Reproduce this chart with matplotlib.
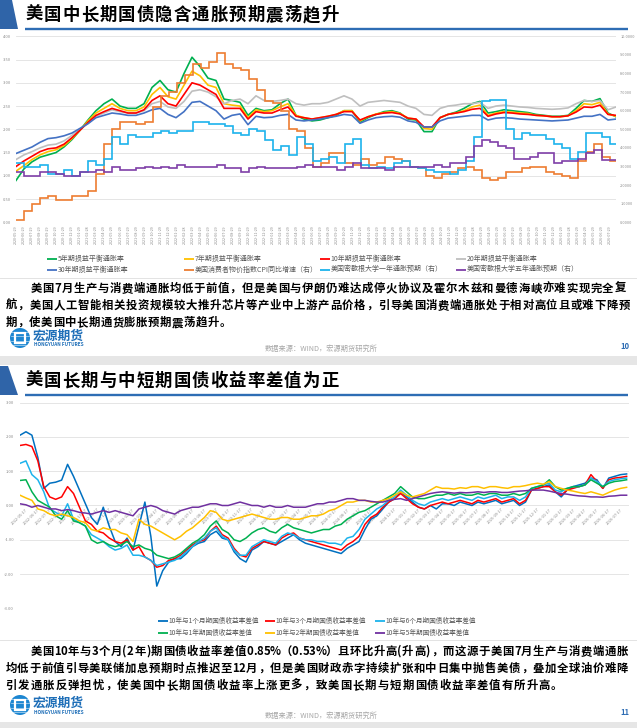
import numpy as np
import pandas as pd
import matplotlib
matplotlib.use('Agg')
import matplotlib.pyplot as plt
from matplotlib.patches import Polygon, Circle, Rectangle
from matplotlib.transforms import ScaledTranslation

plt.rcParams['font.family'] = ['Noto Sans CJK SC', 'DejaVu Sans']

# ---------------- chart 1 data (breakevens, left axis, monthly readings) ----------------
be_5y = [0.90, 1.15, 1.30, 1.40, 1.45, 1.50, 1.62, 1.78, 1.98, 2.20,
         2.40, 2.55, 2.65, 2.50, 2.45, 2.45, 2.55, 2.90, 3.05, 2.85,
         2.80, 3.20, 3.55, 3.35, 3.10, 3.05, 2.65, 2.62, 2.58, 2.30,
         2.45, 2.40, 2.42, 2.55, 2.65, 2.30, 2.22, 2.18, 2.20, 2.25,
         2.30, 2.40, 2.40, 2.15, 2.25, 2.32, 2.38, 2.40, 2.35, 2.22,
         2.20, 1.95, 1.95, 2.25, 2.32, 2.37, 2.45, 2.55, 2.60, 2.35,
         2.38, 2.42, 2.40, 2.38, 2.36, 2.32, 2.30, 2.28, 2.28, 2.30,
         2.45, 2.62, 2.60, 2.66, 2.35, 2.27]
be_7y = [1.10, 1.22, 1.35, 1.45, 1.52, 1.56, 1.65, 1.80, 1.98, 2.18,
         2.35, 2.45, 2.55, 2.45, 2.40, 2.40, 2.48, 2.75, 2.90, 2.70,
         2.65, 2.95, 3.25, 3.15, 2.95, 2.90, 2.55, 2.52, 2.50, 2.25,
         2.42, 2.38, 2.40, 2.48, 2.55, 2.30, 2.25, 2.22, 2.25, 2.28,
         2.32, 2.40, 2.40, 2.18, 2.27, 2.33, 2.36, 2.38, 2.34, 2.24,
         2.22, 2.02, 2.00, 2.25, 2.32, 2.35, 2.40, 2.48, 2.52, 2.30,
         2.35, 2.38, 2.37, 2.35, 2.34, 2.30, 2.29, 2.27, 2.27, 2.29,
         2.40, 2.55, 2.53, 2.58, 2.33, 2.28]
be_10y = [1.20, 1.32, 1.42, 1.52, 1.58, 1.60, 1.68, 1.82, 1.98, 2.15,
          2.30, 2.38, 2.45, 2.40, 2.35, 2.35, 2.42, 2.62, 2.72, 2.55,
          2.50, 2.75, 3.00, 2.95, 2.85, 2.75, 2.45, 2.45, 2.45, 2.22,
          2.38, 2.35, 2.35, 2.42, 2.48, 2.28, 2.25, 2.22, 2.25, 2.28,
          2.32, 2.38, 2.38, 2.20, 2.27, 2.32, 2.35, 2.36, 2.33, 2.24,
          2.22, 2.05, 2.05, 2.25, 2.32, 2.35, 2.38, 2.43, 2.45, 2.28,
          2.33, 2.36, 2.35, 2.33, 2.32, 2.30, 2.29, 2.27, 2.27, 2.29,
          2.37, 2.48, 2.47, 2.52, 2.32, 2.30]
be_20y = [1.35, 1.45, 1.52, 1.60, 1.66, 1.68, 1.75, 1.87, 2.00, 2.13,
          2.28, 2.35, 2.42, 2.38, 2.35, 2.35, 2.40, 2.55, 2.60, 2.48,
          2.45, 2.60, 2.82, 2.85, 2.80, 2.70, 2.55, 2.62, 2.65, 2.55,
          2.72, 2.62, 2.60, 2.62, 2.65, 2.55, 2.52, 2.55, 2.55, 2.58,
          2.65, 2.72, 2.65, 2.50, 2.58, 2.60, 2.62, 2.60, 2.58, 2.50,
          2.45, 2.32, 2.30, 2.45, 2.50, 2.52, 2.55, 2.55, 2.58, 2.45,
          2.50, 2.52, 2.50, 2.48, 2.47, 2.45, 2.44, 2.43, 2.44, 2.46,
          2.55, 2.62, 2.60, 2.62, 2.42, 2.48]
be_30y = [1.48, 1.55, 1.62, 1.72, 1.80, 1.82, 1.86, 1.92, 2.02, 2.12,
          2.25, 2.30, 2.35, 2.33, 2.30, 2.30, 2.35, 2.42, 2.45, 2.32,
          2.25, 2.38, 2.58, 2.60, 2.50, 2.40, 2.22, 2.30, 2.33, 2.10,
          2.28, 2.25, 2.26, 2.30, 2.32, 2.20, 2.18, 2.20, 2.22, 2.25,
          2.28, 2.32, 2.30, 2.13, 2.20, 2.25, 2.27, 2.28, 2.26, 2.18,
          2.15, 2.05, 2.05, 2.18, 2.24, 2.26, 2.28, 2.30, 2.30, 2.20,
          2.24, 2.25, 2.24, 2.22, 2.21, 2.20, 2.19, 2.18, 2.19, 2.20,
          2.24, 2.28, 2.28, 2.32, 2.20, 2.22]

# monthly step series, right axis
cpi_yoy = [0.1, 0.6, 1.0, 1.3, 1.4, 1.2, 1.2, 1.4, 1.4, 1.7,
           2.6, 4.2, 5.0, 5.4, 5.4, 5.3, 5.4, 6.2, 6.8, 7.0,
           7.5, 7.9, 8.5, 8.3, 8.6, 9.1, 8.5, 8.3, 8.2, 7.7,
           7.1, 6.5, 6.4, 6.0, 5.0, 4.9, 4.0, 3.0, 3.2, 3.7,
           3.7, 3.2, 3.1, 3.4, 3.1, 3.2, 3.5, 3.4, 3.3, 3.0,
           2.9, 2.5, 2.4, 2.6, 2.7, 2.9, 3.0, 2.8, 2.4, 2.3,
           2.4, 2.7, 2.7, 2.9, 3.0, 3.0, 2.7, 2.6, 2.5, 2.4,
           3.3, 3.8, 4.2, 3.5, 3.3]
mich_1y = [3.2, 3.0, 3.0, 3.1, 2.6, 2.6, 2.8, 2.5, 2.7, 3.3,
           3.1, 3.4, 4.6, 4.2, 4.7, 4.6, 4.6, 4.8, 4.9, 4.8,
           4.9, 4.9, 5.4, 5.4, 5.3, 5.3, 5.2, 4.8, 4.7, 5.0,
           4.9, 4.4, 3.9, 4.1, 3.6, 4.6, 4.2, 3.3, 3.4, 3.5,
           3.2, 4.2, 4.5, 3.1, 2.9, 3.0, 2.9, 3.2, 3.3, 3.0,
           2.9, 2.8, 2.7, 2.7, 2.6, 2.8, 3.3, 4.6, 6.5, 6.6,
           6.6, 5.0, 4.5, 4.8, 4.7, 4.7, 4.5, 4.2, 4.0, 3.4,
           3.8, 4.8, 4.8, 4.6, 4.2]
mich_5y = [2.7, 2.5, 2.5, 2.7, 2.7, 2.6, 2.5, 2.5, 2.7, 2.7,
           2.8, 2.7, 3.0, 2.8, 2.8, 2.9, 3.0, 2.9, 3.0, 2.9,
           3.1, 3.0, 3.0, 3.0, 3.0, 3.1, 2.9, 2.9, 2.7, 2.9,
           3.0, 2.9, 2.9, 2.9, 2.9, 3.0, 3.1, 3.0, 3.0, 3.0,
           2.8, 3.0, 3.2, 2.9, 2.9, 2.9, 2.8, 3.0, 3.0, 3.0,
           3.0, 3.0, 3.1, 3.0, 3.2, 3.2, 3.5, 4.1, 4.4, 4.3,
           4.1, 4.0, 3.4, 3.4, 3.5, 3.7, 3.7, 3.2, 3.3, 3.3,
           3.4, 3.7, 3.9, 3.35, 3.35]
c1_labels = [(pd.Timestamp('2020-05-29') + pd.DateOffset(months=i)).strftime('%Y-%m-%d')
             for i in range(75)]

# ---------------- chart 2 data (10y minus tenor spreads, half-month readings) ----------------
sp_1m = [2.05, 2.15, 2.05, 1.40, 0.50, 0.65, 0.68, 0.74, 1.20, 0.85,
         0.45, 0.05, -0.35, -0.55, -0.05, -0.60, -1.05, -1.20, -0.95, -1.30,
         -0.60, 0.10, -0.90, -2.35, -1.90, -1.65, -1.55, -1.55, -1.40, -1.20,
         -1.10, -1.05, -0.85, -0.75, -0.95, -1.00, -1.35, -1.55, -1.65, -1.30,
         -1.20, -1.05, -1.10, -1.15, -1.05, -0.95, -0.85, -1.00, -1.10, -1.15,
         -1.20, -1.25, -1.30, -1.35, -1.40, -1.25, -1.15, -1.05, -0.70, -0.40,
         -0.30, -0.10, 0.10, 0.20, 0.40, 0.25, 0.10, -0.05, -0.10, 0.00,
         -0.10, 0.05, 0.05, 0.00, 0.10, 0.05, 0.00, 0.10, 0.05, 0.10,
         0.15, 0.05, 0.10, 0.15, 0.00, 0.10, 0.45, 0.50, 0.55, 0.60,
         0.40, 0.25, 0.45, 0.55, 0.60, 0.65, 0.80, 0.75, 0.50, 0.80,
         0.85, 0.90, 0.92]
sp_3m = [1.75, 1.78, 1.72, 1.30, 0.55, 0.25, 0.18, 0.25, 0.55, 0.35,
         -0.05, -0.45, -0.55, -0.75, -0.80, -0.95, -1.05, -1.10, -1.00, -1.30,
         -1.20, -1.50, -1.60, -1.80, -1.75, -1.60, -1.55, -1.45, -1.30, -1.15,
         -1.05, -1.00, -0.75, -0.60, -0.85, -0.95, -1.25, -1.45, -1.50, -1.25,
         -1.15, -1.05, -1.10, -1.15, -0.95, -0.85, -0.80, -0.95, -1.00, -1.05,
         -1.10, -1.15, -1.20, -1.25, -1.30, -1.15, -1.05, -0.90, -0.55, -0.35,
         -0.25, -0.05, 0.10, 0.20, 0.35, 0.20, 0.05, -0.05, -0.10, 0.00,
         0.05, 0.10, 0.05, 0.10, 0.15, 0.10, 0.05, 0.15, 0.10, 0.15,
         0.20, 0.10, 0.15, 0.20, 0.05, 0.15, 0.45, 0.50, 0.55, 0.55,
         0.40, 0.30, 0.45, 0.50, 0.55, 0.60, 0.90, 0.70, 0.50, 0.75,
         0.80, 0.82, 0.85]
sp_6m = [1.23, 1.30, 0.90, 0.75, 0.40, -0.10, -0.20, -0.30, 0.05, -0.40,
         -0.50, -0.60, -0.85, -0.95, -1.05, -1.20, -1.30, -1.25, -1.15, -1.45,
         -1.45, -1.50, -1.60, -1.75, -1.70, -1.65, -1.60, -1.50, -1.35, -1.20,
         -1.05, -0.95, -0.75, -0.65, -0.90, -1.00, -1.30, -1.45, -1.45, -1.20,
         -1.10, -1.00, -1.05, -1.10, -0.90, -0.80, -0.85, -0.95, -1.00, -1.00,
         -1.05, -1.05, -1.10, -1.10, -1.15, -0.95, -0.90, -0.70, -0.40, -0.25,
         -0.10, 0.00, 0.15, 0.25, 0.45, 0.30, 0.15, 0.05, 0.00, 0.10,
         0.15, 0.20, 0.15, 0.20, 0.25, 0.20, 0.15, 0.25, 0.20, 0.25,
         0.30, 0.20, 0.25, 0.25, 0.15, 0.25, 0.50, 0.55, 0.60, 0.65,
         0.45, 0.40, 0.50, 0.55, 0.55, 0.60, 0.80, 0.70, 0.55, 0.70,
         0.75, 0.78, 0.80]
sp_1y = [0.73, 0.75, 0.40, 0.15, 0.05, -0.05, -0.30, -0.40, -0.15, -0.45,
         -0.50, -0.60, -1.00, -1.10, -1.05, -1.15, -1.20, -1.15, -1.05, -1.20,
         -1.15, -1.25, -1.30, -1.45, -1.50, -1.55, -1.50, -1.40, -1.25, -1.10,
         -1.00, -0.85, -0.60, -0.45, -0.70, -0.80, -1.00, -1.05, -0.95, -0.80,
         -0.70, -0.65, -0.75, -0.80, -0.65, -0.55, -0.65, -0.70, -0.75, -0.80,
         -0.75, -0.70, -0.70, -0.60, -0.55, -0.40, -0.30, -0.20, -0.15, -0.05,
         0.05, 0.15, 0.25, 0.35, 0.55, 0.40, 0.25, 0.20, 0.20, 0.25,
         0.30, 0.30, 0.35, 0.30, 0.35, 0.30, 0.30, 0.35, 0.30, 0.35,
         0.35, 0.30, 0.30, 0.35, 0.30, 0.35, 0.50, 0.55, 0.60, 0.75,
         0.55, 0.45, 0.50, 0.55, 0.55, 0.60, 0.75, 0.65, 0.55, 0.65,
         0.70, 0.72, 0.75]
sp_2y = [0.30, 0.22, 0.15, -0.10, -0.15, -0.25, -0.30, -0.25, -0.30, -0.35,
         -0.45, -0.50, -0.70, -0.75, -0.65, -0.70, -0.70, -0.80, -0.85, -1.05,
         -0.40, -0.55, -0.60, -0.70, -0.80, -0.90, -1.00, -0.90, -0.75, -0.65,
         -0.50, -0.35, -0.15, -0.20, -0.40, -0.45, -0.40, -0.35, -0.30, -0.25,
         -0.30, -0.35, -0.40, -0.40, -0.35, -0.35, -0.40, -0.40, -0.35, -0.30,
         -0.30, -0.25, -0.15, -0.10, 0.00, 0.10, 0.10, 0.15, 0.15, 0.10,
         0.10, 0.15, 0.20, 0.30, 0.40, 0.30, 0.25, 0.30, 0.35, 0.45,
         0.55, 0.50, 0.50, 0.48, 0.52, 0.50, 0.55, 0.55, 0.50, 0.55,
         0.55, 0.52, 0.50, 0.55, 0.55, 0.58, 0.62, 0.65, 0.62, 0.70,
         0.55, 0.50, 0.45, 0.42, 0.38, 0.35, 0.40, 0.35, 0.30, 0.38,
         0.45, 0.50, 0.53]
sp_5y = [0.05, 0.02, -0.05, 0.00, -0.05, -0.10, -0.10, -0.15, -0.12, -0.15,
         -0.20, -0.22, -0.25, -0.20, -0.15, -0.20, -0.15, -0.20, -0.25, -0.30,
         -0.10, -0.05, 0.00, -0.05, -0.15, -0.20, -0.25, -0.15, -0.10, -0.05,
         -0.05, 0.00, 0.05, 0.05, 0.00, 0.00, 0.05, 0.10, 0.05, 0.00,
         0.00, -0.05, 0.00, -0.05, -0.05, 0.00, -0.05, -0.05, -0.05, 0.00,
         0.05, 0.05, 0.10, 0.10, 0.15, 0.20, 0.20, 0.15, 0.15, 0.12,
         0.10, 0.10, 0.15, 0.18, 0.20, 0.15, 0.20, 0.25, 0.30, 0.35,
         0.38, 0.40, 0.38, 0.36, 0.38, 0.37, 0.38, 0.40, 0.38, 0.40,
         0.40, 0.38, 0.38, 0.40, 0.42, 0.43, 0.45, 0.45, 0.45, 0.42,
         0.38, 0.35, 0.33, 0.30, 0.28, 0.27, 0.25, 0.25, 0.24, 0.27,
         0.28, 0.30, 0.30]
c2_labels = [(pd.Timestamp('2022-05-17') + pd.DateOffset(months=i)).strftime('%Y-%m-%d')
             for i in range(51)]

title1 = '美国中长期国债隐含通胀预期震荡趋升'
title2 = '美国长期与中短期国债收益率差值为正'
para1 = ['美国7月生产与消费端通胀均低于前值，但是美国与伊朗仍难达成停火协议及霍尔木兹和曼德海峡亦难实现完全复',
         '航，美国人工智能相关投资规模较大推升芯片等产业中上游产品价格，引导美国消费端通胀处于相对高位且或难下降预',
         '期，使美国中长期通货膨胀预期震荡趋升。']
para2 = ['美国10年与3个月(2年)期国债收益率差值0.85%（0.53%）且环比升高(升高)，而这源于美国7月生产与消费端通胀',
         '均低于前值引导美联储加息预期时点推迟至12月，但是美国财政赤字持续扩张和中日集中抛售美债，叠加全球油价难降',
         '引发通胀反弹担忧，使美国中长期国债收益率上涨更多，致美国长期与短期国债收益率差值有所升高。']

C_GREEN, C_YEL, C_RED, C_GRAY = '#00B050', '#FFC000', '#FF0000', '#BFBFBF'
C_BLUE30, C_ORANGE, C_CYAN, C_PURPLE = '#4472C4', '#ED7D31', '#1DB3EC', '#7F3FA8'
C_DBLUE = '#0070C0'
TICK_C = '#8c8c8c'
LEG_C = '#595959'
BAR_C = '#2E6DB4'

W, H = 637, 728
fig = plt.figure(figsize=(W / 100, H / 100), dpi=100)
bg = fig.add_axes([0, 0, 1, 1])
bg.set_xlim(0, W)
bg.set_ylim(H, 0)
bg.axis('off')


def box(x0, y0, x1, y1):
    return [x0 / W, 1 - y1 / H, (x1 - x0) / W, (y1 - y0) / H]


def cw(c):
    if ord(c) > 0x2e80:
        return 1.0
    if c == '.':
        return 0.3
    if c in '()':
        return 0.4
    if c == '%':
        return 0.8
    return 0.58


def put(s, x0, y, fs, x1=None, unit=None, color='black', weight='bold'):
    ws = [cw(c) for c in s]
    if x1 is not None:
        unit = (x1 - x0) / sum(ws)
    x = x0
    for c, w in zip(s, ws):
        bg.text(x + w * unit / 2, y, c, fontsize=fs, color=color, weight=weight,
                ha='center', va='center')
        x += w * unit


def slide_frame(dy, title):
    bg.add_patch(Polygon([(0, dy), (12 - 4 * (dy > 0), dy), (18, dy + 29), (0, dy + 29)],
                         closed=True, color='#2F64A8', lw=0))
    put(title, 25, dy + 15, 12.5, x1=339)
    bg.plot([25, 628], [dy + 28.8, dy + 28.8], color=BAR_C, lw=1.7, solid_capstyle='butt')


# slide separators
bg.add_patch(Rectangle((0, 356), W, 9, color='#E6E6E6', lw=0))
bg.add_patch(Rectangle((0, 722), W, 6, color='#E6E6E6', lw=0))

slide_frame(0, title1)
slide_frame(366, title2)

# paragraphs
put(para1[0], 30, 288.5, 8.2, x1=626)
put(para1[1], 5, 305.5, 8.2, x1=630)
put(para1[2], 5, 322.5, 8.2, unit=11.9)
put(para2[0], 30, 651.5, 8.2, x1=628)
put(para2[1], 5, 668.5, 8.2, x1=628)
put(para2[2], 5, 685.5, 8.2, unit=12.4)

# separators above text
bg.plot([0, W], [277.5, 277.5], color='#E3E3E3', lw=0.7)
bg.plot([0, W], [639.5, 639.5], color='#E3E3E3', lw=0.7)

# logos, footers, page numbers
for dy, page in [(0, '10'), (367, '11')]:
    bg.add_patch(Circle((20, 338 + dy), 10, color='#1C86D1', lw=0))
    for yy in (331.5, 335.5, 340.5, 344.5):
        bg.plot([11, 29], [yy + dy, yy + dy], color='white', lw=0.5, alpha=0.7)
    bg.add_patch(Rectangle((15, 333 + dy), 10, 10, fill=False, ec='white', lw=1.6))
    bg.add_patch(Rectangle((17.5, 335.5 + dy), 5, 5, color='#1C86D1', lw=0))
    bg.text(33, 336 + dy, '宏源期货', fontsize=9.2, weight='bold', color='#1F6FB8',
            ha='left', va='center')
    bg.text(33.5, 345 + dy, 'HONGYUAN FUTURES', fontsize=3.4, weight='bold',
            color='#1F6FB8', ha='left', va='center')
    bg.text(265, 349 + dy, '数据来源：WIND，宏源期货研究所', fontsize=5.2, color='#A6A6A6',
            ha='left', va='center')
    bg.text(620, 346.5 + dy - (1 if dy else 0), page, fontsize=5.5, weight='bold',
            color=BAR_C, ha='left', va='center')

# ---------------- chart 1 ----------------
ax1 = fig.add_axes(box(16, 36.3, 616, 222.3))
ax1.set_facecolor('none')
XMAX1 = 74.7
be_x = np.linspace(0, XMAX1, len(be_5y))
ax1.plot(be_x, be_5y, color=C_GREEN, lw=1.2)
ax1.plot(be_x, be_7y, color=C_YEL, lw=1.2)
ax1.plot(be_x, be_20y, color=C_GRAY, lw=1.2)
ax1.plot(be_x, be_10y, color=C_RED, lw=1.2)
ax1.plot(be_x, be_30y, color=C_BLUE30, lw=1.2)
ax1.set_xlim(0, XMAX1)
ax1.set_ylim(0, 4)
ax1.set_yticks(np.arange(0, 4.01, 0.5))
ax1.set_yticklabels([f'{v:.2f}' for v in np.arange(0, 4.01, 0.5)])
ax1.grid(axis='y', color='#E0E0E0', lw=0.6)
ax1.set_axisbelow(True)
ax1.set_xticks(np.arange(len(c1_labels)))
ax1.set_xticklabels(c1_labels, rotation=90, fontsize=2.7, color=TICK_C)
ax1.tick_params(axis='x', length=0, pad=2)
ax1.tick_params(axis='y', length=0, pad=3.6, labelsize=3, labelcolor=TICK_C)
for s in ax1.spines.values():
    s.set_visible(False)

ax1r = ax1.twinx()
edges = np.append(np.arange(len(cpi_yoy)), XMAX1)
ax1r.stairs(cpi_yoy, edges, baseline=None, color=C_ORANGE, lw=1.2)
ax1r.stairs(mich_1y, edges, baseline=None, color=C_CYAN, lw=1.2)
ax1r.stairs(mich_5y, edges, baseline=None, color=C_PURPLE, lw=1.2)
ax1r.set_ylim(0, 10)
ax1r.set_yticks(np.arange(0, 11))
ax1r.set_yticklabels([f'{v:.4f}' for v in np.arange(0, 11)])
ax1r.tick_params(axis='y', length=0, pad=3, labelsize=2.8, labelcolor=TICK_C)
for s in ax1r.spines.values():
    s.set_visible(False)

leg1 = [[(C_GREEN, '5年期损益平衡通胀率'), (C_YEL, '7年期损益平衡通胀率'),
         (C_RED, '10年期损益平衡通胀率'), (C_GRAY, '20年期损益平衡通胀率')],
        [(C_BLUE30, '30年期损益平衡通胀率'), (C_ORANGE, '美国消费者物价指数CPI同比增速（右）'),
         (C_CYAN, '美国密歇根大学一年通胀预期（右）'), (C_PURPLE, '美国密歇根大学五年通胀预期（右）')]]
for row, yy in zip(leg1, (258.5, 269.5)):
    for (col, lab), xx in zip(row, (47, 184, 320, 456)):
        bg.plot([xx, xx + 10], [yy, yy], color=col, lw=1.3, solid_capstyle='butt')
        bg.text(xx + 10.5, yy, lab, fontsize=5, color=LEG_C, ha='left', va='center')

# ---------------- chart 2 ----------------
ax2 = fig.add_axes(box(20, 402.6, 629, 608.4))
ax2.set_facecolor('none')
XMAX2 = 51.2
for vals, col in [(sp_1m, C_DBLUE), (sp_3m, C_RED), (sp_6m, C_CYAN),
                  (sp_1y, C_GREEN), (sp_2y, C_YEL), (sp_5y, '#7030A0')]:
    ax2.plot(np.arange(len(vals)) * 0.5, vals, color=col, lw=1.1)
ax2.set_xlim(0, XMAX2)
ax2.set_ylim(-3, 3)
ax2.set_yticks(np.arange(-3, 4))
ax2.set_yticklabels([f'{v:.2f}' for v in np.arange(-3, 4)])
ax2.grid(axis='y', color='#E0E0E0', lw=0.6)
ax2.set_axisbelow(True)
ax2.spines['bottom'].set_position(('data', 0))
for s in ax2.spines.values():
    s.set_visible(False)
ax2.set_xticks(np.arange(len(c2_labels)))
ax2.set_xticklabels(c2_labels, rotation=45, ha='right', rotation_mode='anchor',
                    fontsize=2.9, color=TICK_C)
ax2.tick_params(axis='x', length=0, pad=1.5)
ax2.tick_params(axis='y', length=0, pad=4.3, labelsize=3, labelcolor=TICK_C)
off = ScaledTranslation(6 / 100, 0, fig.dpi_scale_trans)
for lbl in ax2.get_xticklabels():
    lbl.set_transform(lbl.get_transform() + off)

leg2 = [[(C_DBLUE, '10年与1个月期国债收益率差值'), (C_RED, '10年与3个月期国债收益率差值'),
         (C_CYAN, '10年与6个月期国债收益率差值')],
        [(C_GREEN, '10年与1年期国债收益率差值'), (C_YEL, '10年与2年期国债收益率差值'),
         ('#7030A0', '10年与5年期国债收益率差值')]]
for row, yy in zip(leg2, (620.5, 632.5)):
    for (col, lab), xx in zip(row, (158, 265, 375)):
        bg.plot([xx, xx + 10], [yy, yy], color=col, lw=1.3, solid_capstyle='butt')
        bg.text(xx + 10.5, yy, lab, fontsize=4.8, color=LEG_C, ha='left', va='center')

fig.savefig('out.png', dpi=100)
